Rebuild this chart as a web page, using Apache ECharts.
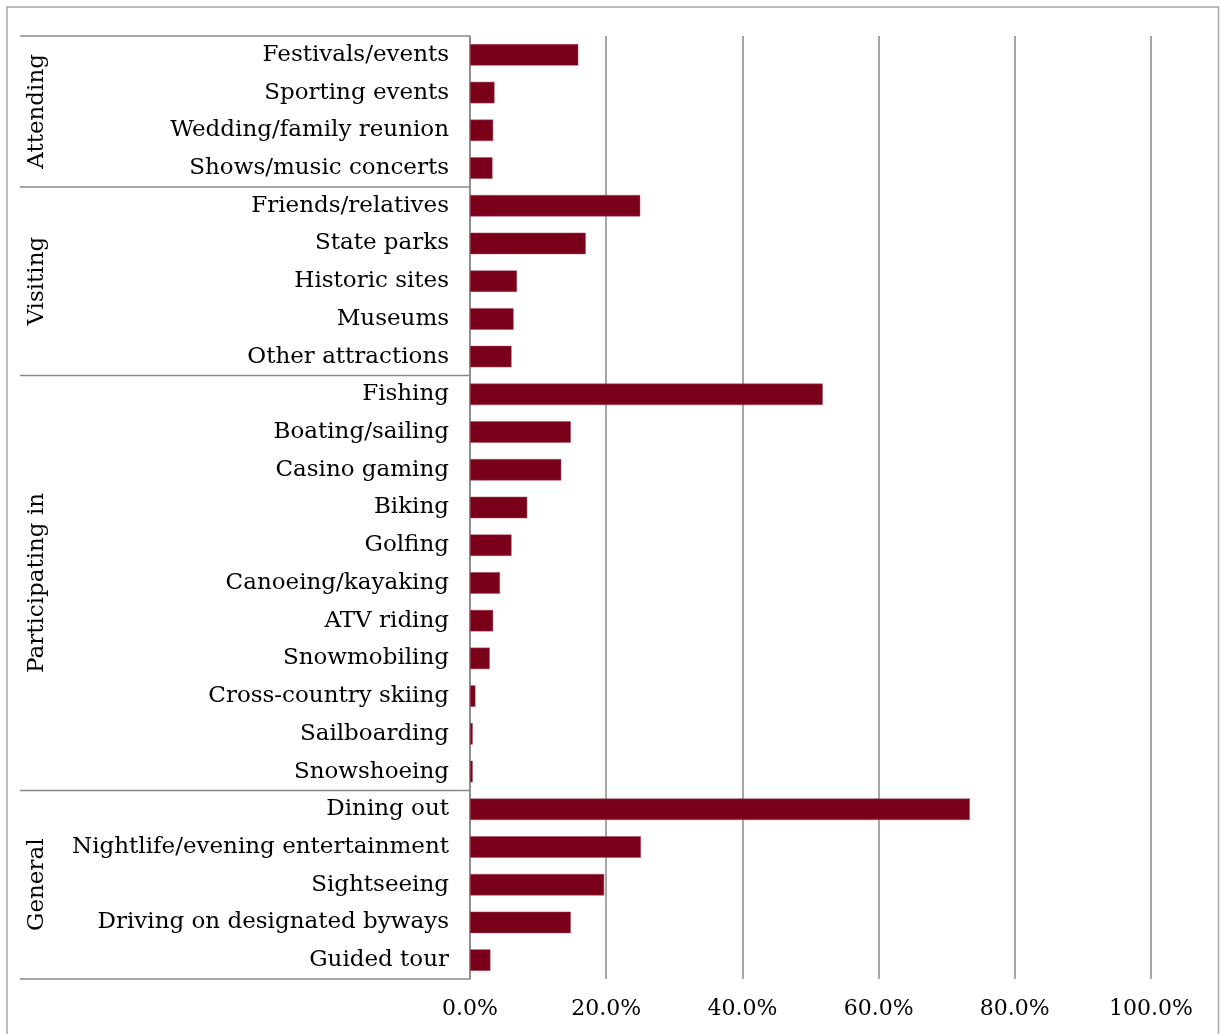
<!DOCTYPE html>
<html>
<head>
<meta charset="utf-8">
<script src="https://cdn.jsdelivr.net/npm/echarts@6/dist/echarts.min.js"></script>
<style>
  html, body { margin: 0; padding: 0; background: #ffffff; }
  #chart { width: 1220px; height: 1034px; }
</style>
</head>
<body>
<div id="chart"></div>
<script>
// Activities, top to bottom
const activities = [
  'Festivals/events', 'Sporting events', 'Wedding/family reunion', 'Shows/music concerts',
  'Friends/relatives', 'State parks', 'Historic sites', 'Museums', 'Other attractions',
  'Fishing', 'Boating/sailing', 'Casino gaming', 'Biking', 'Golfing', 'Canoeing/kayaking',
  'ATV riding', 'Snowmobiling', 'Cross-country skiing', 'Sailboarding', 'Snowshoeing',
  'Dining out', 'Nightlife/evening entertainment', 'Sightseeing',
  'Driving on designated byways', 'Guided tour'
];

// Share of respondents (%)
const shares = [
  15.9, 3.6, 3.4, 3.3,
  25.0, 17.0, 6.9, 6.4, 6.1,
  51.8, 14.8, 13.4, 8.4, 6.1, 4.4, 3.4, 2.9, 0.8, 0.4, 0.4,
  73.4, 25.1, 19.7, 14.8, 3.0
];

// Outer grouping of the activity list
const groupNames = ['Attending', 'Visiting', 'Participating in', 'General'];
const groupSizes = [4, 5, 11, 5];

// Value axis ticks
const axisMax = 100;
const axisStep = 20;

const FONT = 'DejaVu Serif';
const LINE = '#888888';

const chart = echarts.init(document.getElementById('chart'), null, { renderer: 'canvas' });

chart.setOption({
  animation: false,
  backgroundColor: '#ffffff',
  grid: { left: 470, right: 69, top: 36, bottom: 55, containLabel: false },
  xAxis: {
    type: 'value',
    min: 0,
    max: axisMax,
    interval: axisStep,
    axisLine: { show: false },
    axisTick: { show: false },
    axisLabel: {
      formatter: v => v.toFixed(1) + '%',
      color: '#000000',
      fontFamily: FONT,
      fontSize: 22,
      margin: 19
    },
    splitLine: { show: true, lineStyle: { color: LINE, width: 1.5 } }
  },
  yAxis: {
    type: 'category',
    data: activities,
    inverse: true,
    axisLine: { show: true, lineStyle: { color: LINE, width: 1.5 } },
    axisTick: { show: false },
    axisLabel: {
      color: '#000000',
      fontFamily: FONT,
      fontSize: 23,
      margin: 21,
      padding: [2, 0, 0, 0],
      interval: 0
    }
  },
  series: [{
    type: 'bar',
    data: shares,
    barCategoryGap: '43%',
    itemStyle: { color: '#7a0019', borderColor: '#a0505f', borderWidth: 0.5 }
  }]
});

// Group brackets: separators at group boundaries and rotated group titles
function drawGroups() {
  const first = chart.convertToPixel({ yAxisIndex: 0 }, activities[0]);
  const second = chart.convertToPixel({ yAxisIndex: 0 }, activities[1]);
  const band = second - first;
  const axisX = chart.convertToPixel({ xAxisIndex: 0 }, 0);
  const leftX = 20;
  const elements = [];

  // outer frame
  elements.push({
    type: 'rect',
    shape: { x: 7, y: 7, width: 1211.5, height: 1060 },
    style: { fill: null, stroke: '#a6a6a6', lineWidth: 1.5 },
    silent: true
  });

  const boundaryY = idx => chart.convertToPixel({ yAxisIndex: 0 }, activities[Math.min(idx, activities.length - 1)]) + (idx >= activities.length ? band / 2 : -band / 2);
  elements.push({
    type: 'line',
    shape: { x1: leftX, y1: boundaryY(0), x2: axisX, y2: boundaryY(0) },
    style: { stroke: LINE, lineWidth: 1.5 },
    silent: true
  });
  let start = 0;
  groupNames.forEach((name, g) => {
    const end = start + groupSizes[g];
    const yTop = boundaryY(start);
    const yBot = boundaryY(end);
    elements.push({
      type: 'line',
      shape: { x1: leftX, y1: yBot, x2: axisX, y2: yBot },
      style: { stroke: LINE, lineWidth: 1.5 },
      silent: true
    });
    elements.push({
      type: 'text',
      x: 37,
      y: (yTop + yBot) / 2,
      rotation: Math.PI / 2,
      style: {
        text: name,
        fill: '#000000',
        font: '23px "' + FONT + '"',
        align: 'center',
        verticalAlign: 'middle'
      },
      silent: true
    });
    start = end;
  });

  chart.setOption({ graphic: { elements: elements } });
}
drawGroups();
</script>
</body>
</html>
